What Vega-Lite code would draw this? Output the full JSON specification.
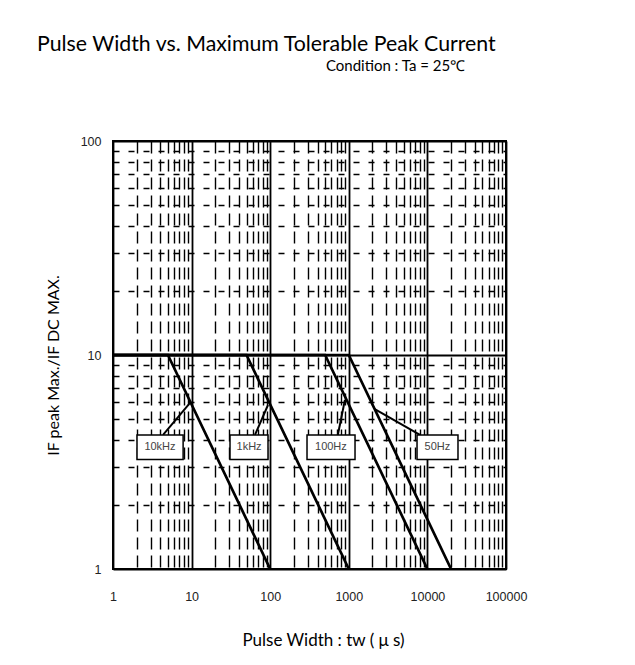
{
  "$schema": "https://vega.github.io/schema/vega-lite/v6.json",
  "width": 393,
  "height": 428,
  "autosize": "none",
  "padding": {"left": 113, "top": 141, "right": 129, "bottom": 96},
  "background": "white",
  "config": {
    "view": {"stroke": "black", "strokeWidth": 2},
    "font": "Lato"
  },
  "title": {
    "text": "Pulse Width vs. Maximum Tolerable Peak Current",
    "anchor": "start",
    "frame": "group",
    "dx": -76,
    "offset": 3,
    "font": "Lato",
    "fontSize": 21.3,
    "fontWeight": "normal",
    "color": "black"
  },
  "datasets": {
    "curves": [
      {"series": "10kHz", "x": 1, "y": 10},
      {"series": "10kHz", "x": 5, "y": 10},
      {"series": "10kHz", "x": 100, "y": 1},
      {"series": "1kHz", "x": 1, "y": 10},
      {"series": "1kHz", "x": 50, "y": 10},
      {"series": "1kHz", "x": 1000, "y": 1},
      {"series": "100Hz", "x": 1, "y": 10},
      {"series": "100Hz", "x": 500, "y": 10},
      {"series": "100Hz", "x": 10000, "y": 1},
      {"series": "50Hz", "x": 1, "y": 10},
      {"series": "50Hz", "x": 1000, "y": 10},
      {"series": "50Hz", "x": 20000, "y": 1}
    ],
    "boxes": [
      {"label": "10kHz", "x0": 2.02, "x1": 7.8, "y0": 3.25, "y1": 4.23, "xc": 3.96, "yc": 3.7},
      {"label": "1kHz", "x0": 30.8, "x1": 93.8, "y0": 3.25, "y1": 4.23, "xc": 53.8, "yc": 3.7},
      {"label": "100Hz", "x0": 294, "x1": 1200, "y0": 3.25, "y1": 4.23, "xc": 592, "yc": 3.7},
      {"label": "50Hz", "x0": 7380, "x1": 24500, "y0": 3.25, "y1": 4.23, "xc": 13400, "yc": 3.7}
    ],
    "pointers": [
      {"label": "10kHz", "xa": 4.33, "ya": 4.23, "xb": 9.55, "yb": 5.97},
      {"label": "1kHz", "xa": 64, "ya": 4.23, "xb": 93.8, "yb": 5.84},
      {"label": "100Hz", "xa": 725, "ya": 4.23, "xb": 893, "yb": 6.17},
      {"label": "50Hz", "xa": 8050, "ya": 4.23, "xb": 2140, "yb": 5.58}
    ]
  },
  "resolve": {"scale": {"x": "shared", "y": "shared"}, "axis": {"x": "independent"}},
  "layer": [
    {
      "data": {"name": "curves"},
      "mark": {"type": "line", "color": "black", "strokeWidth": 2.7, "clip": true},
      "encoding": {
        "x": {
          "field": "x",
          "type": "quantitative",
          "title": "Pulse Width : tw ( \u03bc s)",
          "scale": {"type": "log", "domain": [1, 100000], "nice": false},
          "axis": {
            "titleFont": "Lato",
            "titleFontSize": 17,
            "titleFontWeight": "normal",
            "titleColor": "black",
            "titleX": 210,
            "titleY": 71,
            "titleBaseline": "middle",
            "values": [1,2,3,4,5,6,7,8,9,10,20,30,40,50,60,70,80,90,100,200,300,400,500,600,700,800,900,1000,2000,3000,4000,5000,6000,7000,8000,9000,10000,20000,30000,40000,50000,60000,70000,80000,90000,100000],
            "labelExpr": "indexof([1,10,100,1000,10000,100000], datum.value) >= 0 ? '' + datum.value : ''",
            "labelFont": "Liberation Sans",
            "labelFontSize": 12.5,
            "labelColor": "#222",
            "labelPadding": 21,
            "labelFlush": false,
            "labelOverlap": false,
            "ticks": false,
            "domain": false,
            "grid": true,
            "gridColor": "black",
            "gridOpacity": 1,
            "gridWidth": {"condition": {"test": "indexof([1,10,100,1000,10000,100000], datum.value) >= 0", "value": 1.8}, "value": 1.4},
            "gridDash": {"condition": {"test": "indexof([1,10,100,1000,10000,100000], datum.value) >= 0", "value": []}, "value": [12, 6]}
          }
        },
        "y": {
          "field": "y",
          "type": "quantitative",
          "title": "IF peak Max./IF DC MAX.",
          "scale": {"type": "log", "domain": [1, 100], "nice": false},
          "axis": {
            "titleFont": "Lato",
            "titleFontSize": 16,
            "titleFontWeight": "normal",
            "titleColor": "black",
            "titleAngle": -90,
            "titleX": -60,
            "titleY": 224,
            "titleAlign": "center",
            "titleBaseline": "middle",
            "values": [1,2,3,4,5,6,7,8,9,10,20,30,40,50,60,70,80,90,100],
            "labelExpr": "indexof([1,10,100], datum.value) >= 0 ? '' + datum.value : ''",
            "labelFont": "Liberation Sans",
            "labelFontSize": 12.5,
            "labelColor": "#222",
            "labelPadding": 12,
            "labelOverlap": false,
            "ticks": false,
            "domain": false,
            "grid": true,
            "gridColor": "black",
            "gridOpacity": 1,
            "gridWidth": {"condition": {"test": "indexof([1,10,100], datum.value) >= 0", "value": 1.8}, "value": 1.4},
            "gridDash": {"condition": {"test": "indexof([1,10,100], datum.value) >= 0", "value": []}, "value": [6, 9]}
          }
        },
        "detail": {"field": "series", "type": "nominal"}
      }
    },
    {
      "data": {"name": "pointers"},
      "mark": {"type": "rule", "color": "black", "strokeWidth": 2},
      "encoding": {
        "x": {"field": "xa", "type": "quantitative", "axis": null},
        "y": {"field": "ya", "type": "quantitative", "title": "IF peak Max./IF DC MAX."},
        "x2": {"field": "xb"},
        "y2": {"field": "yb"}
      }
    },
    {
      "data": {"name": "boxes"},
      "mark": {"type": "rect", "fill": "white", "stroke": "black", "strokeWidth": 1.5},
      "encoding": {
        "x": {"field": "x0", "type": "quantitative", "axis": null},
        "x2": {"field": "x1"},
        "y": {"field": "y0", "type": "quantitative", "title": "IF peak Max./IF DC MAX."},
        "y2": {"field": "y1"}
      }
    },
    {
      "data": {"name": "boxes"},
      "mark": {"type": "text", "font": "Liberation Sans", "fontSize": 11, "color": "#444", "align": "center", "baseline": "middle"},
      "encoding": {
        "x": {
          "field": "xc",
          "type": "quantitative",
          "title": "Condition : Ta = 25\u2103",
          "axis": {
            "orient": "top",
            "labels": false,
            "ticks": false,
            "domain": false,
            "grid": false,
            "titleFont": "Lato",
            "titleFontSize": 15,
            "titleFontWeight": "normal",
            "titleColor": "black",
            "titleX": 282,
            "titleY": -76,
            "titleAlign": "center",
            "titleBaseline": "middle"
          }
        },
        "y": {"field": "yc", "type": "quantitative", "title": "IF peak Max./IF DC MAX."},
        "text": {"field": "label", "type": "nominal"}
      }
    }
  ]
}
